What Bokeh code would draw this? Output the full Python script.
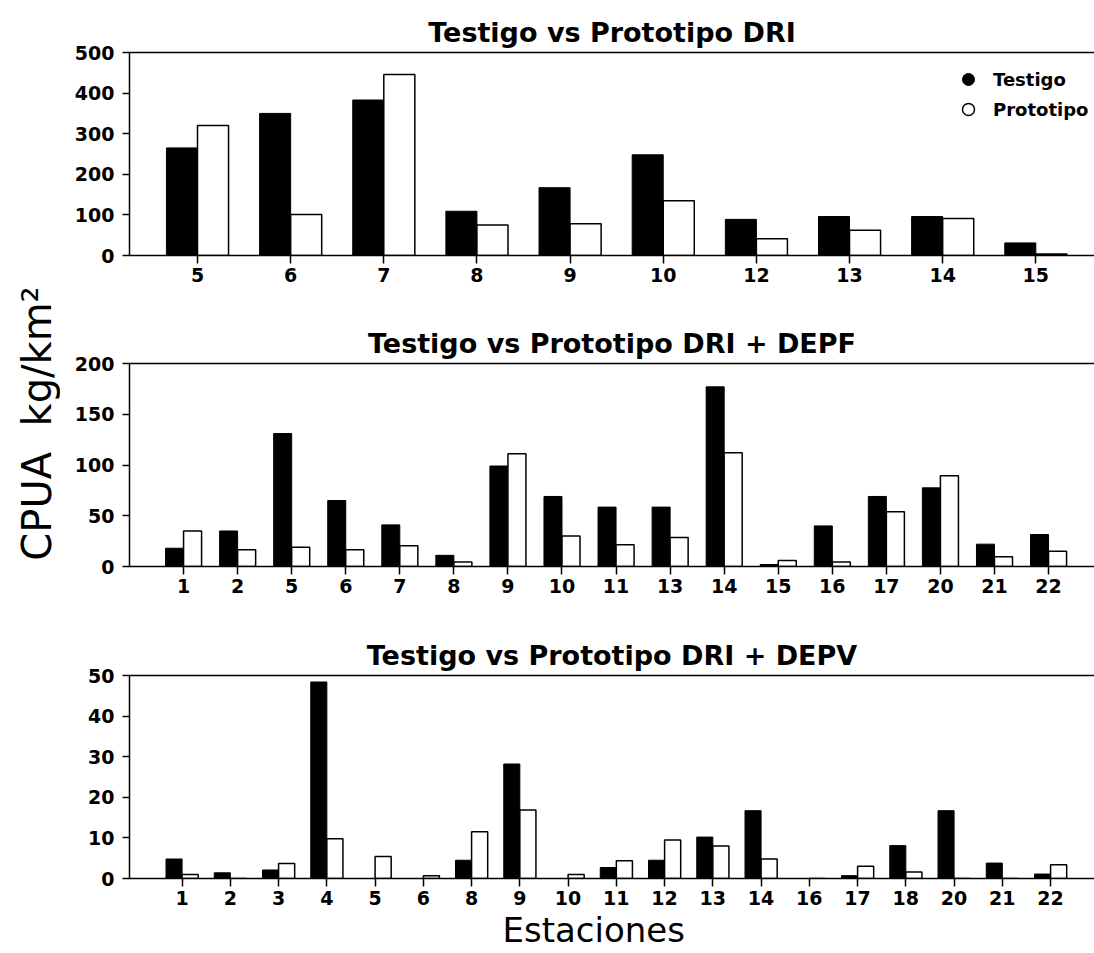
import math
from bokeh.plotting import figure
from bokeh.layouts import column, row
from bokeh.models import (ColumnDataSource, FixedTicker, LinearAxis, Range1d, Title, Label,
                          Legend, LegendItem)
from bokeh.transform import dodge
from bokeh.embed import file_html
from bokeh.resources import INLINE

# ---------------- data ----------------
# Panel 1: Testigo vs Prototipo DRI
dri_est = ["5", "6", "7", "8", "9", "10", "12", "13", "14", "15"]
dri_testigo = [265, 350, 383, 109, 167, 248, 89, 96, 96, 31]
dri_prototipo = [320, 101, 446, 75, 78, 135, 41, 62, 91, 4]

# Panel 2: Testigo vs Prototipo DRI + DEPF
depf_est = ["1", "2", "5", "6", "7", "8", "9", "10", "11", "13", "14", "15", "16", "17", "20", "21", "22"]
depf_testigo = [18, 35, 131, 65, 41, 11, 99, 69, 58.5, 58.5, 177, 2, 40, 69, 77.5, 22, 31.5]
depf_prototipo = [35, 16.5, 19, 16.5, 20.5, 4.5, 111, 30, 21.5, 28.5, 112, 6, 4.5, 54, 89.5, 9.5, 15]

# Panel 3: Testigo vs Prototipo DRI + DEPV
depv_est = ["1", "2", "3", "4", "5", "6", "8", "9", "10", "11", "12", "13", "14", "16", "17", "18", "20", "21", "22"]
depv_testigo = [4.8, 1.4, 2.1, 48.4, 0, 0, 4.5, 28.2, 0, 2.7, 4.5, 10.2, 16.7, 0, 0.7, 8.1, 16.7, 3.8, 1.1]
depv_prototipo = [1.0, 0, 3.7, 9.8, 5.4, 0.7, 11.5, 16.9, 1.0, 4.4, 9.5, 8.0, 4.8, 0, 3.0, 1.6, 0, 0, 3.4]

titles = ["Testigo vs Prototipo DRI",
          "Testigo vs Prototipo DRI + DEPF",
          "Testigo vs Prototipo DRI + DEPV"]
y_ticks = [[0, 100, 200, 300, 400, 500], [0, 50, 100, 150, 200], [0, 10, 20, 30, 40, 50]]
series_labels = ["Testigo", "Prototipo"]
y_title = "CPUA\u00a0\u00a0kg/km²"
x_title = "Estaciones"

BOLD_FONT = "DejaVu Sans"
FRAME_W = 965
FRAME_H = 203
LABEL_W = 60
TOTAL_H = 953


def make_panel(title, cats, testigo, prototipo, yticks, pad_l, pad_r, b_top, b_bottom):
    n = len(cats)
    xs = list(range(n))
    src = ColumnDataSource(dict(x=xs, t=testigo, p=prototipo))
    p = figure(frame_width=FRAME_W, frame_height=FRAME_H,
               x_range=Range1d(-pad_l, n - 1 + pad_r),
               y_range=Range1d(yticks[0], yticks[-1]),
               output_backend="svg", toolbar_location=None,
               min_border_left=129 - LABEL_W, min_border_right=0,
               min_border_top=b_top, min_border_bottom=b_bottom,
               background_fill_color="white", border_fill_color="white")
    p.outline_line_color = None
    p.xgrid.visible = False
    p.ygrid.visible = False

    p.vbar(x=dodge("x", -1 / 6), top="t", width=1 / 3, source=src,
           fill_color="black", line_color="black", line_width=1)
    p.vbar(x=dodge("x", 1 / 6), top="p", width=1 / 3, source=src,
           fill_color="white", line_color="black", line_width=1.5)

    # axes
    xa = p.xaxis[0]
    xa.ticker = FixedTicker(ticks=xs)
    xa.major_label_overrides = {i: c for i, c in enumerate(cats)}
    ya = p.yaxis[0]
    ya.ticker = FixedTicker(ticks=yticks)
    for ax in (xa, ya):
        ax.axis_line_color = "black"
        ax.axis_line_width = 1.5
        ax.major_tick_line_color = "black"
        ax.major_tick_line_width = 1.5
        ax.major_tick_in = 0
        ax.minor_tick_line_color = None
        ax.major_label_text_font = BOLD_FONT
        ax.major_label_text_font_style = "bold"
        ax.major_label_text_font_size = "19px"
        ax.major_label_text_color = "black"
    xa.major_tick_out = 8
    xa.major_label_standoff = 4
    ya.major_tick_out = 7
    ya.major_label_standoff = 8

    top = LinearAxis(ticker=FixedTicker(ticks=[]), axis_line_color="black",
                     axis_line_width=1.5, major_tick_line_color=None,
                     minor_tick_line_color=None, major_label_text_color=None)
    p.add_layout(top, "above")

    p.title.text = title
    p.title.align = "center"
    p.title.text_font = BOLD_FONT
    p.title.text_font_style = "bold"
    p.title.text_font_size = "27px"
    p.title.text_color = "black"
    p.title.standoff = 10
    return p, src


p1, src1 = make_panel(titles[0], dri_est, dri_testigo, dri_prototipo, y_ticks[0], 0.73, 0.63, 52, 45)
p2, src2 = make_panel(titles[1], depf_est, depf_testigo, depf_prototipo, y_ticks[1], 1.0, 0.85, 63, 45)
p3, src3 = make_panel(titles[2], depv_est, depv_testigo, depv_prototipo, y_ticks[2], 1.09, 0.91, 64, 75)

# legend with circle markers (hidden marker renderers supply the legend glyphs)
m_t = p1.scatter(x="x", y="t", source=src1, marker="circle", size=12,
                 fill_color="black", line_color="black", visible=False)
m_p = p1.scatter(x="x", y="p", source=src1, marker="circle", size=12,
                 fill_color="white", line_color="black", line_width=1.5, visible=False)
legend = Legend(items=[LegendItem(label=series_labels[0], renderers=[m_t]),
                       LegendItem(label=series_labels[1], renderers=[m_p])],
                location=(824, 131), orientation="vertical", click_policy="none",
                glyph_width=30, glyph_height=30, spacing=0, label_standoff=10,
                label_height=30,
                padding=0, margin=0, border_line_color=None, background_fill_alpha=0,
                inactive_fill_alpha=0,
                label_text_font=BOLD_FONT, label_text_font_style="bold",
                label_text_font_size="18px", label_text_color="black")
p1.add_layout(legend)

# x axis title
xlab = Title(text=x_title, align="left", offset=373, standoff=0,
             text_font="DejaVu Sans", text_font_style="normal",
             text_font_size="34px", text_color="black")
p3.add_layout(xlab, "below")

# shared y axis title in a narrow strip on the left
yfig = figure(frame_width=LABEL_W, frame_height=TOTAL_H,
              x_range=Range1d(0, 1), y_range=Range1d(0, 1),
              x_axis_location=None, y_axis_location=None,
              output_backend="svg", toolbar_location=None,
              min_border=0, min_border_left=0, min_border_right=0,
              min_border_top=0, min_border_bottom=0,
              background_fill_color="white", border_fill_color="white")
yfig.outline_line_color = None
yfig.xgrid.visible = False
yfig.ygrid.visible = False
ylab = Label(x=36, y=TOTAL_H - 423, x_units="screen", y_units="screen",
             text=y_title, angle=math.pi / 2,
             text_align="center", text_baseline="middle",
             text_font="DejaVu Sans", text_font_size="40px", text_color="black")
yfig.add_layout(ylab)

layout = row(yfig, column(p1, p2, p3, spacing=0), spacing=0)
open("out.html", "w").write(file_html(layout, INLINE))
